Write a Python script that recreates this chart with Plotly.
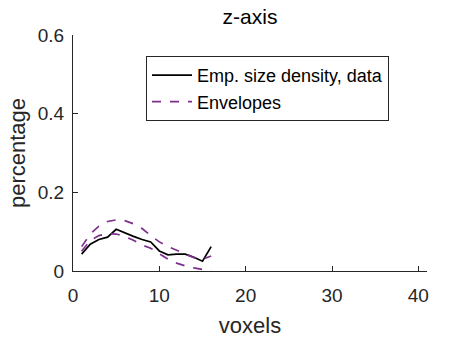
import plotly.graph_objects as go

voxels = list(range(1, 17))
emp_density = [0.043, 0.068, 0.080, 0.086, 0.106, 0.096, 0.088, 0.080, 0.074, 0.051, 0.041, 0.043, 0.043, 0.035, 0.025, 0.062]
env_upper = [0.062, 0.094, 0.114, 0.126, 0.130, 0.128, 0.120, 0.108, 0.090, 0.074, 0.062, 0.053, 0.043, 0.034, 0.030, 0.038]
env_lower = [0.050, 0.078, 0.090, 0.095, 0.094, 0.088, 0.078, 0.066, 0.058, 0.045, 0.030, 0.020, 0.013, 0.008, 0.004, 0.002]

x_ticks = [0, 10, 20, 30, 40]
y_ticks = [0, 0.2, 0.4, 0.6]

purple = "#7E2F8E"
axis_col = "#262626"
font = "Liberation Sans, Arial, sans-serif"

fig = go.Figure()
fig.add_trace(go.Scatter(x=voxels, y=emp_density, mode="lines",
                         line=dict(color="black", width=1.7),
                         name="Emp. size density, data"))
fig.add_trace(go.Scatter(x=voxels, y=env_upper, mode="lines",
                         line=dict(color=purple, width=1.7, dash="dash"),
                         name="Envelopes"))
fig.add_trace(go.Scatter(x=voxels, y=env_lower, mode="lines",
                         line=dict(color=purple, width=1.7, dash="dash"),
                         name="Envelopes", showlegend=False))

fig.update_layout(
    width=473, height=338,
    margin=dict(l=73, r=46, t=35, b=67, autoexpand=False),
    paper_bgcolor="white", plot_bgcolor="white",
    font=dict(family=font, color=axis_col, size=18),
    title=dict(text="z-axis", x=(73 + 427) / 2 / 473, xanchor="center",
               y=1 - 17 / 338, yanchor="middle",
               font=dict(size=21, color="black", family=font)),
    showlegend=True,
    legend=dict(x=(146 - 73) / 354, y=(271 - 56) / 236, xanchor="left", yanchor="top",
                bgcolor="white", bordercolor=axis_col, borderwidth=1,
                font=dict(size=18, color="black", family=font),
                tracegroupgap=0, itemwidth=40),
    xaxis=dict(range=[0, 41], tickvals=x_ticks, ticks="inside", ticklen=5,
               tickcolor=axis_col, showline=True, linecolor=axis_col, linewidth=1,
               showgrid=False, zeroline=False, ticklabelstandoff=7, automargin=False,
               tickfont=dict(size=19, color=axis_col),
               title=dict(text="voxels", font=dict(size=22, color=axis_col), standoff=12)),
    yaxis=dict(range=[0, 0.6], tickvals=y_ticks, ticktext=["0", "0.2", "0.4", "0.6"],
               ticks="inside", ticklen=5,
               tickcolor=axis_col, showline=True, linecolor=axis_col, linewidth=1,
               showgrid=False, zeroline=False, ticklabelstandoff=4, automargin=False,
               tickfont=dict(size=19, color=axis_col),
               title=dict(text="percentage", font=dict(size=22, color=axis_col), standoff=6)),
)

fig.write_html("out.html")
